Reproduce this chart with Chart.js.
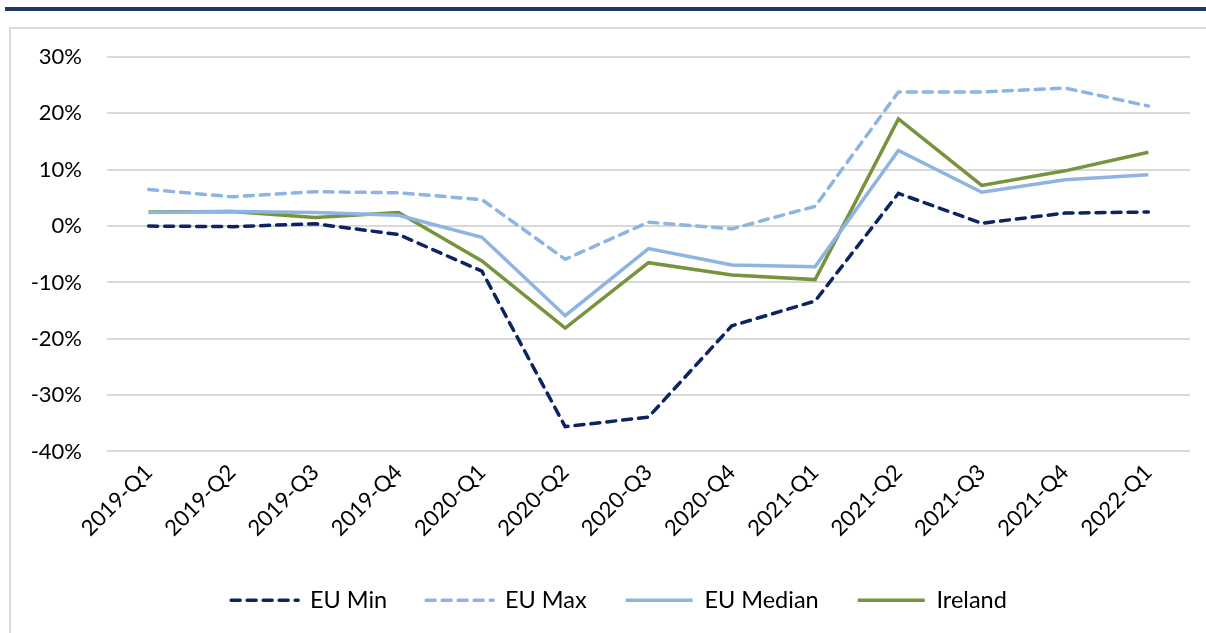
<!DOCTYPE html>
<html>
<head>
<meta charset="utf-8">
<script src="https://cdn.jsdelivr.net/npm/chart.js@4.4.1/dist/chart.umd.min.js"></script>
<style>
  html, body { margin: 0; padding: 0; background: #fff; overflow: hidden; }
  .topBar { position: absolute; left: 5px; top: 7px; width: 1201px; height: 4px; background: #1f3864; }
  .frame { position: absolute; left: 9px; top: 27px; width: 1230px; height: 620px; border: 2px solid #d9d9d9; box-sizing: border-box; }
  .chartBox { position: absolute; left: 11px; top: 29px; width: 1216px; height: 604px; }
</style>
</head>
<body>
<div class="topBar"></div>
<div class="frame"></div>
<div class="chartBox"><canvas id="chart"></canvas></div>
<script>
const quarters = ["2019-Q1", "2019-Q2", "2019-Q3", "2019-Q4", "2020-Q1", "2020-Q2", "2020-Q3",
  "2020-Q4", "2021-Q1", "2021-Q2", "2021-Q3", "2021-Q4", "2022-Q1"];
const euMin = [0.0, -0.1, 0.4, -1.5, -8.0, -35.6, -33.9, -17.7, -13.3, 5.8, 0.5, 2.3, 2.5];
const euMax = [6.5, 5.2, 6.1, 5.9, 4.7, -5.9, 0.7, -0.5, 3.5, 23.8, 23.8, 24.5, 21.3];
const euMedian = [2.4, 2.6, 2.4, 1.9, -2.0, -15.9, -4.0, -6.9, -7.2, 13.4, 6.0, 8.2, 9.1];
const ireland = [2.5, 2.6, 1.5, 2.4, -6.2, -18.1, -6.5, -8.7, -9.5, 19.0, 7.2, 9.8, 13.1];
const yTicks = [30, 20, 10, 0, -10, -20, -30, -40];

Chart.defaults.font.family = "Lato, 'Open Sans', sans-serif";
Chart.defaults.font.size = 22;
Chart.defaults.color = "#000";

const LINE_W = 3.5;

const line = (label, data, color, dash) => ({
  label: label,
  data: data,
  borderColor: color,
  backgroundColor: color,
  borderWidth: LINE_W,
  borderDash: dash,
  borderCapStyle: dash.length ? "round" : "butt",
  pointRadius: 0,
  tension: 0,
  fill: false,
});

new Chart(document.getElementById("chart"), {
  type: "line",
  data: {
    labels: quarters,
    datasets: [
      line("EU Min", euMin, "#0c2461", [9, 7]),
      line("EU Max", euMax, "#8db4e2", [9, 7]),
      line("EU Median", euMedian, "#8db4e2", []),
      line("Ireland", ireland, "#77933c", []),
    ],
  },
  options: {
    responsive: true,
    maintainAspectRatio: false,
    animation: false,
    layout: { padding: { top: 28, right: 0, left: 0, bottom: 11 } },
    plugins: {
      tooltip: { enabled: false },
      legend: {
        position: "bottom",
        labels: {
          usePointStyle: true,
          pointStyle: "line",
          pointStyleWidth: 67,
          boxHeight: 20,
          padding: 39,
          font: { size: 23.5 },
          // point style legend items lose the dataset dash, so put it back
          generateLabels: (chart) =>
            Chart.defaults.plugins.legend.labels.generateLabels(chart).map((item) => {
              const ds = chart.data.datasets[item.datasetIndex];
              return Object.assign(item, {
                lineDash: ds.borderDash,
                lineCap: ds.borderCapStyle,
                lineWidth: LINE_W,
                strokeStyle: ds.borderColor,
              });
            }),
        },
      },
    },
    scales: {
      x: {
        offset: true,
        grid: { display: false, drawTicks: false },
        border: { display: false },
        ticks: { minRotation: 45, maxRotation: 45, padding: 8 },
      },
      y: {
        min: -40,
        max: 30,
        afterFit: (axis) => {
          axis.width = 96;
          axis.paddingTop = 0;
          axis.paddingBottom = 0;
        },
        afterBuildTicks: (axis) => { axis.ticks = yTicks.map((v) => ({ value: v })); },
        grid: { color: "#d9d9d9", lineWidth: 2, drawTicks: false },
        border: { display: false },
        ticks: { padding: 25, callback: (v) => v + "%" },
      },
      // empty right gutter so the centred legend sits where the original one does
      spacer: {
        position: "right",
        grid: { display: false, drawTicks: false },
        border: { display: false },
        ticks: { display: false },
        afterFit: (axis) => {
          axis.width = 37;
          axis.paddingTop = 0;
          axis.paddingBottom = 0;
        },
      },
    },
  },
});
</script>
</body>
</html>
